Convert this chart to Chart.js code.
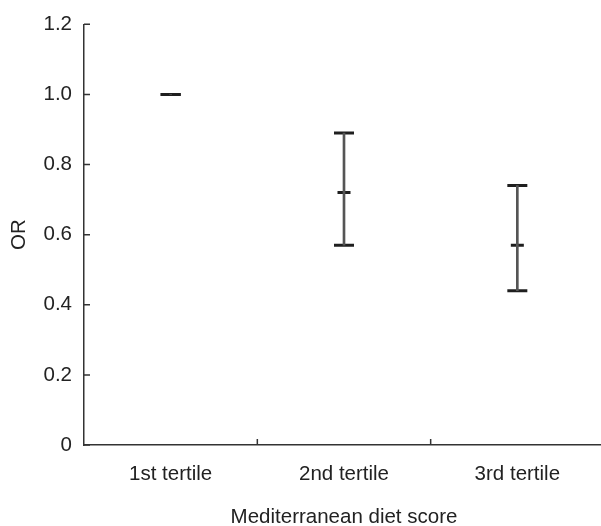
<!DOCTYPE html>
<html>
<head>
<meta charset="utf-8">
<script src="https://cdn.jsdelivr.net/npm/chart.js@4"></script>
<style>
  html, body { margin: 0; padding: 0; background: #fff; overflow: hidden; }
  #wrap { width: 604px; height: 526px; }
</style>
</head>
<body>
<div id="wrap"><canvas id="chartOR" width="604" height="526"></canvas></div>
<script>
// tertiles of the Mediterranean diet score
const categories = ["1st tertile", "2nd tertile", "3rd tertile"];
const orValues = [1.0, 0.72, 0.57];
const ciLower = [1.0, 0.57, 0.44];
const ciUpper = [1.0, 0.89, 0.74];
const yTicks = [0, 0.2, 0.4, 0.6, 0.8, 1.0, 1.2];

const ink = "#1f1f1f";
const axisColor = "#333";
const textFont = { family: "Liberation Sans, Arial", size: 20.5 };

// small inward ticks, like the original figure
const innerTicks = {
  id: "innerTicks",
  afterDraw(chart) {
    const { ctx, chartArea, scales } = chart;
    ctx.save();
    ctx.strokeStyle = axisColor;
    ctx.lineWidth = 1.5;
    ctx.beginPath();
    yTicks.forEach((v) => {
      const y = scales.y.getPixelForValue(v);
      ctx.moveTo(chartArea.left, y);
      ctx.lineTo(chartArea.left + 6, y);
    });
    for (let i = 0; i < categories.length - 1; i++) {
      const x = (scales.x.getPixelForValue(i) + scales.x.getPixelForValue(i + 1)) / 2;
      ctx.moveTo(x, chartArea.bottom);
      ctx.lineTo(x, chartArea.bottom - 6);
    }
    ctx.stroke();
    ctx.restore();
  },
};

const ctx = document.getElementById("chartOR");
new Chart(ctx, {
  data: {
    labels: categories,
    datasets: [
      {
        // whisker: floating bar from lower to upper limit
        type: "bar",
        data: ciLower.map((lo, i) => [lo, ciUpper[i]]),
        backgroundColor: "#555",
        barThickness: 2,
        borderWidth: 0,
      },
      {
        type: "line",
        data: ciUpper,
        showLine: false,
        pointStyle: "line",
        pointRadius: 10,
        pointBorderWidth: 3,
        pointBorderColor: ink,
      },
      {
        type: "line",
        data: ciLower,
        showLine: false,
        pointStyle: "line",
        pointRadius: 10,
        pointBorderWidth: 3,
        pointBorderColor: ink,
      },
      {
        type: "line",
        data: orValues,
        showLine: false,
        pointStyle: "line",
        pointRadius: 6.5,
        pointBorderWidth: 3,
        pointBorderColor: ink,
      },
    ],
  },
  options: {
    responsive: false,
    animation: false,
    devicePixelRatio: 1,
    layout: { autoPadding: false, padding: { top: 22, right: 0, bottom: 0, left: 0 } },
    plugins: { legend: { display: false }, tooltip: { enabled: false } },
    scales: {
      x: {
        type: "category",
        offset: true,
        grid: { display: false, drawTicks: false },
        border: { display: true, color: axisColor, width: 1.5 },
        ticks: { color: "#222", font: textFont, padding: 17, maxRotation: 0 },
        title: {
          display: true,
          text: "Mediterranean diet score",
          color: "#222",
          font: textFont,
          padding: { top: 0, bottom: -4 },
        },
        afterFit(scale) {
          scale.height = 81;
          scale.paddingLeft = 0;
          scale.paddingRight = 0;
        },
      },
      y: {
        min: 0,
        max: 1.2,
        grid: { display: false, drawTicks: false },
        border: { display: true, color: axisColor, width: 1.5 },
        afterBuildTicks(scale) { scale.ticks = yTicks.map((v) => ({ value: v })); },
        ticks: {
          color: "#222",
          font: textFont,
          padding: 12,
          callback: (v) => (v === 0 ? "0" : v.toFixed(1)),
        },
        title: {
          display: true,
          text: "OR",
          color: "#222",
          font: textFont,
          padding: { top: 7, bottom: 0 },
        },
        afterFit(scale) { scale.width = 84; },
      },
    },
  },
  plugins: [innerTicks],
});
</script>
</body>
</html>
